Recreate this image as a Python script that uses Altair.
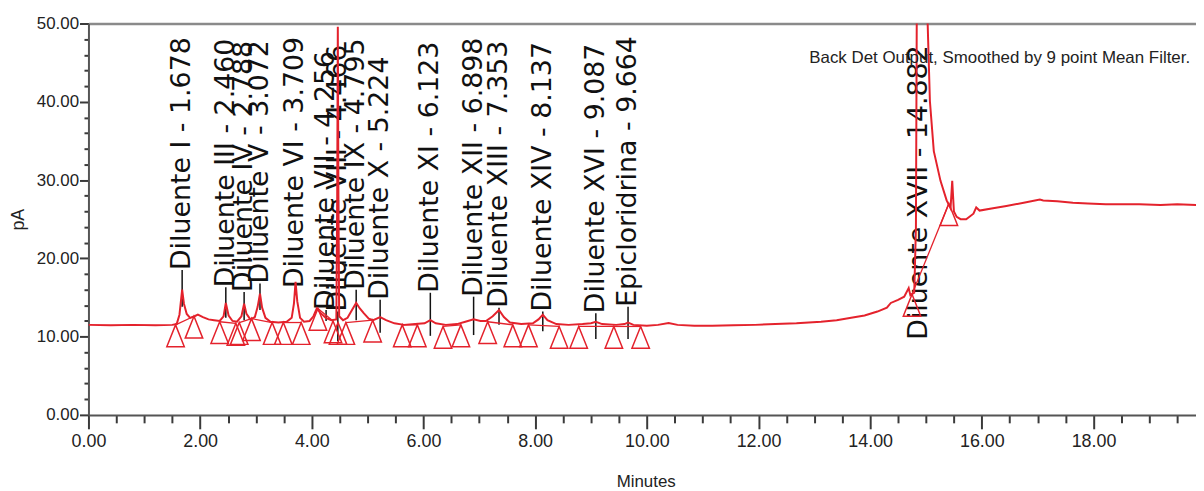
import altair as alt
import pandas as pd

# ---------------- data ----------------
trace_t = [0.00, 0.40, 0.80, 1.20, 1.50, 1.58, 1.63, 1.678, 1.71, 1.76, 1.82, 1.90, 1.96,
           2.05, 2.15, 2.25, 2.35, 2.42, 2.46, 2.51, 2.58, 2.66, 2.74, 2.788, 2.83, 2.90,
           2.98, 3.03, 3.072, 3.11, 3.17, 3.26, 3.40, 3.55, 3.64, 3.68, 3.709, 3.74, 3.79,
           3.86, 3.96, 4.03, 4.09, 4.16, 4.25, 4.35, 4.44, 4.455, 4.466, 4.477, 4.49, 4.56,
           4.64, 4.72, 4.795, 4.86, 4.93, 5.02, 5.10, 5.224, 5.33, 5.48, 5.65, 5.85, 6.02,
           6.123, 6.22, 6.40, 6.60, 6.75, 6.898, 7.02, 7.12, 7.24, 7.353, 7.44, 7.55, 7.75,
           7.96, 8.06, 8.137, 8.22, 8.38, 8.60, 8.85, 9.00, 9.087, 9.20, 9.45, 9.60, 9.664,
           9.76, 10.00, 10.20, 10.39, 10.55, 10.85, 11.17, 11.55, 11.94, 12.30, 12.68, 13.12,
           13.40, 13.66, 13.90, 14.13, 14.30, 14.37, 14.50, 14.61, 14.69, 14.72, 14.79, 14.82,
           14.84, 14.90, 14.98, 15.03, 15.07, 15.14, 15.26, 15.37, 15.44, 15.47, 15.50, 15.55,
           15.62, 15.72, 15.85, 15.90, 15.96, 16.20, 16.44, 16.75, 17.04, 17.10, 17.35, 17.63,
           17.90, 18.22, 18.52, 18.82, 19.20, 19.50, 19.84]
trace_v = [11.5, 11.45, 11.5, 11.45, 11.5, 11.6, 12.8, 16.0, 14.2, 12.9, 12.4, 12.6, 12.8,
           12.5, 12.2, 12.1, 12.0, 12.6, 14.3, 12.7, 12.0, 11.9, 12.6, 14.2, 12.9, 12.2,
           12.5, 13.8, 15.5, 13.7, 12.4, 11.9, 11.8, 11.9, 12.4, 14.2, 17.0, 14.5, 12.4,
           11.9, 12.0, 12.6, 13.6, 13.0, 12.4, 12.1, 12.2, 28.0, 49.6, 28.0, 12.6, 12.1,
           12.4, 13.4, 14.3, 13.6, 13.0, 12.3, 12.1, 12.5, 12.1, 11.7, 11.5, 11.6, 11.7,
           12.1, 11.7, 11.5, 11.6, 11.9, 12.2, 12.0, 12.0, 12.6, 13.4, 12.5, 11.8, 11.6,
           11.7, 12.2, 12.8, 12.1, 11.6, 11.5, 11.6, 11.7, 11.9, 11.6, 11.5, 11.6, 11.8,
           11.5, 11.4, 11.5, 11.75, 11.5, 11.4, 11.4, 11.45, 11.5, 11.6, 11.7, 11.9,
           12.1, 12.4, 12.7, 13.2, 13.7, 14.3, 14.7, 15.1, 16.2, 15.3, 15.6, 24.0,
           60.0, 120.0, 70.0, 50.0, 40.1, 33.7, 29.9, 27.4, 26.4, 29.9, 26.0, 25.3,
           25.0, 25.0, 25.7, 26.5, 26.1, 26.4, 26.7, 27.1, 27.5, 27.4, 27.3, 27.1,
           27.0, 26.9, 26.9, 26.9, 26.8, 26.9, 26.8]

peak_names = ["Diluente I", "Diluente III", "Diluente IV", "Diluente V", "Diluente VI",
              "Diluente VII", "Diluente VIII", "Diluente IX", "Diluente X", "Diluente XI",
              "Diluente XII", "Diluente XIII", "Diluente XIV", "Diluente XVI",
              "Epicloridrina", "Diluente XVII"]
peak_rt = [1.678, 2.460, 2.788, 3.072, 3.709, 4.256, 4.466, 4.795, 5.224, 6.123,
           6.898, 7.353, 8.137, 9.087, 9.664, 14.882]
label_base = [18.5, 16.3, 15.7, 16.8, 16.2, 13.4, 13.2, 16.0, 14.7, 15.6,
              15.1, 13.7, 13.2, 13.0, 13.8, 9.6]
tick_low = [13.8, 12.4, 12.1, 13.4, 15.3, 12.0, 9.4, 12.1, 10.5, 10.1,
            10.2, 11.5, 10.7, 9.7, 9.7, 9.6]

tri_t = [1.56, 1.89, 2.35, 2.64, 2.70, 2.92, 3.29, 3.49, 3.81, 4.11, 4.38, 4.47, 4.61,
         5.09, 5.62, 5.89, 6.35, 6.67, 7.15, 7.60, 7.88, 8.43, 8.78, 9.41, 9.89, 14.75, 15.41]
tri_v = [11.5, 12.6, 11.9, 11.7, 11.8, 12.3, 11.8, 11.8, 11.8, 13.6, 12.0, 11.8, 11.8,
         12.1, 11.5, 11.5, 11.3, 11.5, 11.9, 11.5, 11.5, 11.3, 11.3, 11.3, 11.3, 15.4, 27.0]

seg_t0 = [1.56, 2.35, 2.70, 2.92, 3.49, 4.11, 4.61, 5.62, 6.35, 7.15, 7.88, 8.78, 9.41, 14.75]
seg_v0 = [11.5, 11.9, 11.8, 12.3, 11.8, 13.6, 11.8, 11.5, 11.3, 11.9, 11.5, 11.3, 11.3, 15.4]
seg_t1 = [1.89, 2.64, 2.92, 3.29, 3.81, 4.38, 5.09, 5.89, 6.67, 7.60, 8.43, 9.41, 9.89, 15.41]
seg_v1 = [12.6, 11.7, 12.3, 11.8, 11.8, 12.0, 12.1, 11.5, 11.5, 11.5, 11.3, 11.3, 11.3, 27.0]

# axis ticks: every 0.5 min (labelled every 2), every 2 pA (labelled every 10)
x_ticks = [i * 0.5 for i in range(40)]
y_ticks = [i * 2 for i in range(26)]

note_text = "Back Det Output, Smoothed by 9 point Mean Filter."
note_pos = (19.73, 45.0)

# ---------------- styling ----------------
RED = "#e4222c"
SANS = "Liberation Sans, Arial, sans-serif"
XDOM = [0, 19.836]
YDOM = [0, 50]
W, H = 1115, 394
AXC = "#3a3a3a"

trace_df = pd.DataFrame({"t": trace_t, "v": trace_v})
peaks_df = pd.DataFrame({
    "t": peak_rt,
    "base": label_base,
    "low": tick_low,
    "label": [f"{n} - {r:.3f}" for n, r in zip(peak_names, peak_rt)],
})
tri_df = pd.DataFrame({"t": tri_t, "v": tri_v})
seg_df = pd.DataFrame({"t0": seg_t0, "v0": seg_v0, "t1": seg_t1, "v1": seg_v1})
note_df = pd.DataFrame({"t": [note_pos[0]], "v": [note_pos[1]], "txt": [note_text]})

xs = alt.Scale(domain=XDOM, nice=False, zero=False)
ys = alt.Scale(domain=YDOM, nice=False, zero=False)

X_MAJOR = "abs(datum.value % 2) < 0.001"
Y_MAJOR = "abs(datum.value % 10) < 0.001"

ax_x = alt.Axis(orient="bottom", values=x_ticks, grid=False,
                labelExpr=f"{X_MAJOR} ? format(datum.value, '.2f') : ''",
                tickSize={"condition": {"test": X_MAJOR, "value": 14}, "value": 8},
                tickColor=AXC, tickWidth=2,
                domainColor="#555", domainWidth=2,
                labelFont=SANS, labelFontSize=18, labelColor="#222",
                labelPadding=4, labelFlush=False, labelOverlap=False,
                title="Minutes", titleFont=SANS, titleFontSize=17,
                titleFontWeight="normal", titleColor="#222",
                titleX=561, titleY=72, titleAlign="center",
                titleBaseline="alphabetic")
ax_x_top = alt.Axis(orient="top", grid=False, labels=False, ticks=False,
                    domain=True, domainColor="#8a8a8a", domainWidth=2.5, title=None)
ax_y = alt.Axis(orient="left", values=y_ticks, grid=False,
                labelExpr=f"{Y_MAJOR} ? format(datum.value, '.2f') : ''",
                tickSize={"condition": {"test": Y_MAJOR, "value": 9}, "value": 4.5},
                tickColor=AXC, tickWidth=2,
                domainColor="#555", domainWidth=2,
                labelFont=SANS, labelFontSize=17, labelColor="#222",
                labelPadding=1, labelFlush=False, labelOverlap=False,
                title="pA", titleFont=SANS, titleFontSize=18,
                titleFontWeight="normal", titleColor="#222",
                titleX=-70, titleY=197, titleAngle=270,
                titleAlign="center", titleBaseline="middle")

labels = alt.Chart(peaks_df).mark_text(
    angle=270, align="left", baseline="middle", font="DejaVu Sans",
    fontSize=27, color="#111"
).encode(
    x=alt.X("t:Q", scale=xs, axis=None),
    y=alt.Y("base:Q", scale=ys, axis=None),
    text="label:N",
)

ticks = alt.Chart(peaks_df).mark_rule(color="#111", strokeWidth=1.5).encode(
    x=alt.X("t:Q", scale=xs, axis=None),
    y=alt.Y("low:Q", scale=ys, axis=None),
    y2="base:Q",
)

trace = alt.Chart(trace_df).mark_line(color=RED, strokeWidth=2, clip=True).encode(
    x=alt.X("t:Q", scale=xs, axis=ax_x),
    y=alt.Y("v:Q", scale=ys, axis=ax_y),
    order="t:Q",
)

segs = alt.Chart(seg_df).mark_rule(color=RED, strokeWidth=1.3, clip=True).encode(
    x=alt.X("t0:Q", scale=xs, axis=None),
    y=alt.Y("v0:Q", scale=ys, axis=None),
    x2="t1:Q",
    y2="v1:Q",
)

tris = alt.Chart(tri_df).mark_point(
    shape="M0,-1L-0.8,1L0.8,1Z", size=484, filled=False, stroke=RED,
    strokeWidth=1.5, opacity=1, yOffset=11
).encode(
    x=alt.X("t:Q", scale=xs, axis=ax_x_top),
    y=alt.Y("v:Q", scale=ys, axis=None),
)

note = alt.Chart(note_df).mark_text(
    align="right", baseline="alphabetic", font=SANS, fontSize=17, color="#222"
).encode(
    x=alt.X("t:Q", scale=xs, axis=None),
    y=alt.Y("v:Q", scale=ys, axis=None),
    text="txt:N",
)

chart = alt.layer(labels, ticks, trace, segs, tris, note).resolve_axis(
    x="independent", y="independent"
).properties(
    width=W, height=H,
    autosize=alt.AutoSizeParams(type="none"),
    padding={"left": 81, "top": 14, "right": 0, "bottom": 75},
).configure_view(stroke=None)

chart.save("out.html", embed_options={"renderer": "svg", "actions": False})
